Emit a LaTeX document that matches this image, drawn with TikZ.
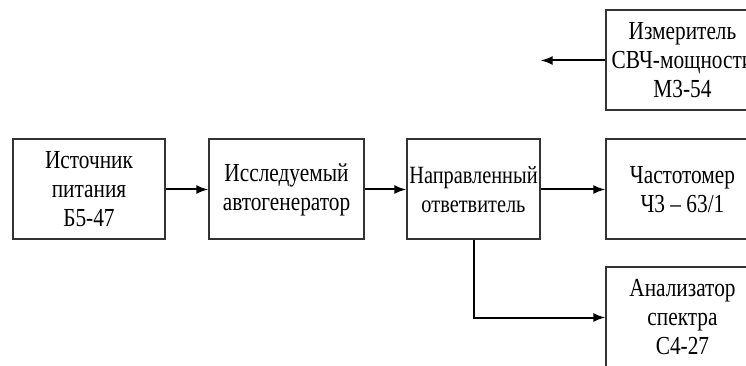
\documentclass[tikz,border=0pt]{standalone}
\usepackage{fontspec}
\setmainfont{Liberation Serif}[FakeStretch=0.82]
\usetikzlibrary{positioning}

\begin{document}
\begin{tikzpicture}[
				block/.style={draw=black!80, line width=1pt, align=center, inner sep=0pt,
					minimum height=50pt, font=\fontsize{13pt}{14.5pt}\selectfont},
				link/.style={draw, line width=1pt, -latex}
			]
			\useasboundingbox (0,0) rectangle (373pt,182.5pt);
			\clip (0,0) rectangle (373pt,182.5pt);
			\node[block, minimum width=76pt] (power) at (44.5pt,87.75pt) {Источник\\питания\\Б5-47};
			\node[block, minimum width=77.5pt, right=21pt of power] (osc) {Исследуемый\\автогенератор};
			\node[block, minimum width=66.5pt, font=\fontsize{12.4pt}{14.5pt}\selectfont,
				right=20.5pt of osc] (coupler) {Направленный\\ответвитель};
			\node[block, minimum width=76.5pt, right=32pt of coupler] (counter) {Частотомер\\Ч3 -- 63/1};
			\node[block, minimum width=76.5pt, above=13.5pt of counter] (meter) {Измеритель\\СВЧ-мощности\\М3-54};
			\node[block, minimum width=76.5pt, below=13pt of counter] (analyzer) {Анализатор\\спектра\\С4-27};
			\coordinate (out) at (coupler.east |- meter.west);
			\draw[link] (power) -- (osc);
			\draw[link] (osc) -- (coupler);
			\draw[link] (coupler) -- (counter);
			\draw[link] (meter) -- (out);
			\draw[link] (coupler.south) |- (analyzer.west);
		\end{tikzpicture}
\end{document}
